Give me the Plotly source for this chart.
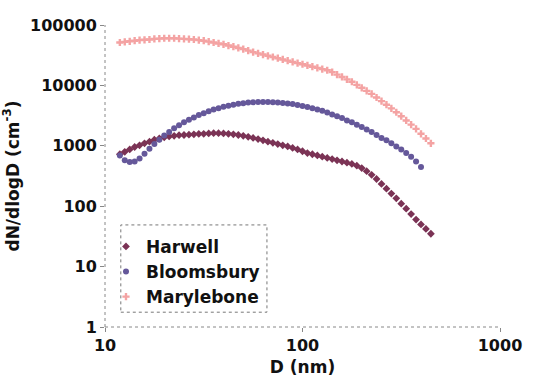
import plotly.graph_objects as go

# Particle diameter grid (nm)
D_nm = [11.89, 12.59, 13.34, 14.13, 14.96, 15.85, 16.79, 17.78, 18.84, 19.95,
        21.13, 22.39, 23.71, 25.12, 26.61, 28.18, 29.85, 31.62, 33.50, 35.48,
        37.58, 39.81, 42.17, 44.67, 47.32, 50.12, 53.09, 56.23, 59.57, 63.10,
        66.83, 70.79, 74.99, 79.43, 84.14, 89.13, 94.41, 100.0, 105.9, 112.2,
        118.9, 125.9, 133.4, 141.3, 149.6, 158.5, 167.9, 177.8, 188.4, 199.5,
        211.3, 223.9, 237.1, 251.2, 266.1, 281.8, 298.5, 316.2, 335.0, 354.8,
        375.8, 398.1, 421.7, 446.7]

harwell = [724, 794, 871, 955, 1020, 1100, 1170, 1260, 1320, 1380,
           1430, 1460, 1500, 1510, 1530, 1550, 1570, 1580, 1600, 1620,
           1620, 1600, 1580, 1550, 1510, 1460, 1410, 1350, 1290, 1230,
           1170, 1120, 1070, 1020, 977, 923, 871, 813, 759, 724,
           692, 661, 631, 603, 575, 550, 525, 501, 468, 427,
           380, 331, 282, 234, 195, 162, 135, 110, 91, 74,
           60, 50, 42, 35]

bloomsbury = [692, 575, 537, 550, 617, 741, 891, 1070, 1260, 1480,
              1700, 1950, 2190, 2450, 2690, 2950, 3240, 3470, 3720, 3980,
              4170, 4420, 4620, 4790, 4950, 5070, 5190, 5250, 5310, 5310,
              5310, 5250, 5190, 5130, 5010, 4900, 4730, 4570, 4370, 4170,
              3980, 3800, 3550, 3310, 3090, 2880, 2630, 2450, 2240, 2040,
              1860, 1700, 1510, 1350, 1230, 1100, 977, 871, 759, 661,
              550, 447]

marylebone = [51300, 52500, 53700, 55000, 56200, 56900, 57500, 58900, 59600, 60300,
              60300, 60300, 59600, 58900, 58200, 57500, 56200, 55000, 53100, 51300,
              49500, 47900, 45700, 43700, 41700, 39800, 37600, 35500, 33900, 32400,
              30900, 29500, 28200, 26900, 25700, 24500, 23400, 22400, 21400, 20400,
              19500, 18600, 17800, 16600, 15100, 13800, 12600, 11500, 10200, 9120,
              8130, 7240, 6310, 5500, 4790, 4170, 3590, 3090, 2630, 2240,
              1910, 1580, 1320, 1100]

x_ticks = [10, 100, 1000]
x_tick_labels = ["10", "100", "1000"]
y_ticks = [1, 10, 100, 1000, 10000, 100000]
y_tick_labels = ["1", "10", "100", "1000", "10000", "100000"]

series_names = ["Harwell", "Bloomsbury", "Marylebone"]
colors = ["#7B3355", "#65589A", "#F4A3A3"]
symbols = ["diamond", "circle", "cross"]
sizes = [6, 6, 6]

FONT = "DejaVu Sans"

fig = go.Figure()
for name, ys, col, sym, sz in zip(series_names, [harwell, bloomsbury, marylebone],
                                  colors, symbols, sizes):
    fig.add_trace(go.Scatter(
        x=D_nm[:len(ys)], y=ys, mode="markers", name=name,
        marker=dict(color=col, symbol=sym, size=sz, line=dict(width=0)),
    ))

axis_common = dict(
    type="log", showgrid=False, zeroline=False, showline=False,
    ticks="outside", ticklen=4, tickcolor="#888", tickwidth=1,
    tickfont=dict(family=FONT, size=16, color="#111", weight="bold"),
)

fig.update_layout(
    width=534, height=385,
    margin=dict(l=100, r=34, t=25, b=52),
    paper_bgcolor="white", plot_bgcolor="white",
    showlegend=True,
    legend=dict(
        x=0.0025, y=0.325, xanchor="left", yanchor="top",
        bgcolor="rgba(0,0,0,0)", borderwidth=0,
        font=dict(family=FONT, size=17, color="#111", weight="bold"),
        tracegroupgap=0,
    ),
    xaxis=dict(
        range=[1, 3], tickvals=x_ticks, ticktext=x_tick_labels,
        title=dict(text="D (nm)", font=dict(family=FONT, size=17, color="#111", weight="bold"),
                   standoff=6),
        **axis_common,
    ),
    yaxis=dict(
        range=[0, 5], tickvals=y_ticks, ticktext=y_tick_labels,
        title=dict(text="dN/dlogD (cm<sup>-3</sup>)",
                   font=dict(family=FONT, size=17, color="#111", weight="bold"),
                   standoff=6),
        **axis_common,
    ),
    shapes=[
        dict(type="line", xref="paper", yref="paper", x0=0, x1=0, y0=0, y1=1,
             line=dict(color="#888", width=1, dash="dot")),
        dict(type="line", xref="paper", yref="paper", x0=0, x1=1, y0=0, y1=0,
             line=dict(color="#888", width=1, dash="dot")),
        dict(type="rect", xref="paper", yref="paper", x0=0.04, x1=0.41,
             y0=0.049, y1=0.338, line=dict(color="#777", width=1, dash="dot")),
    ],
)

fig.write_html("out.html")
